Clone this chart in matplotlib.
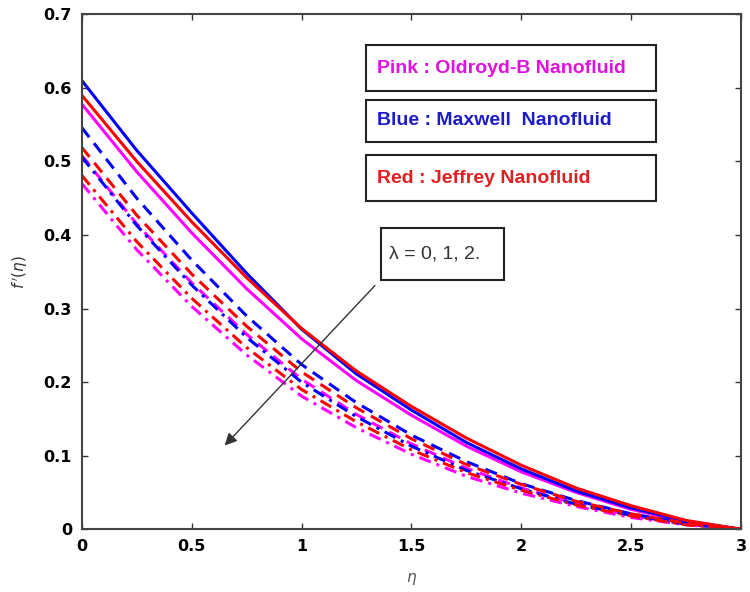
import numpy as np
import matplotlib.pyplot as plt
from matplotlib.patches import Rectangle

# eta grid and velocity profiles
eta = [0, 0.25, 0.5, 0.75, 1.0, 1.25, 1.5, 1.75, 2.0, 2.25, 2.5, 2.75, 3.0]

# lambda = 0 (solid), 1 (dashed), 2 (dash-dot)
pink_l0 = [0.578, 0.486, 0.403, 0.327, 0.259, 0.202, 0.155, 0.113, 0.078, 0.050, 0.027, 0.010, 0.0]
pink_l1 = [0.508, 0.415, 0.335, 0.265, 0.204, 0.156, 0.116, 0.083, 0.056, 0.035, 0.019, 0.007, 0.0]
pink_l2 = [0.470, 0.380, 0.303, 0.237, 0.181, 0.138, 0.102, 0.072, 0.049, 0.031, 0.016, 0.006, 0.0]

blue_l0 = [0.610, 0.515, 0.430, 0.348, 0.272, 0.211, 0.162, 0.118, 0.082, 0.052, 0.029, 0.011, 0.0]
blue_l1 = [0.546, 0.450, 0.366, 0.290, 0.224, 0.172, 0.128, 0.092, 0.062, 0.039, 0.021, 0.008, 0.0]
blue_l2 = [0.506, 0.413, 0.332, 0.261, 0.200, 0.153, 0.113, 0.080, 0.055, 0.034, 0.019, 0.007, 0.0]

red_l0 = [0.590, 0.500, 0.418, 0.342, 0.273, 0.215, 0.167, 0.124, 0.087, 0.056, 0.032, 0.012, 0.0]
red_l1 = [0.519, 0.427, 0.347, 0.276, 0.214, 0.165, 0.123, 0.088, 0.061, 0.038, 0.021, 0.008, 0.0]
red_l2 = [0.481, 0.391, 0.314, 0.247, 0.190, 0.146, 0.108, 0.077, 0.053, 0.033, 0.018, 0.006, 0.0]

fig = plt.figure(figsize=(7.5, 5.92), dpi=100)
ax = fig.add_axes([0.109, 0.106, 0.879, 0.870])

lw = 2.2
dash = (0, (4, 2.5))
dashdot = (0, (4, 2, 1, 2))
for col, series in (('#ff00ff', (pink_l0, pink_l1, pink_l2)),
                    ('#0000ff', (blue_l0, blue_l1, blue_l2)),
                    ('#ff0000', (red_l0, red_l1, red_l2))):
    ax.plot(eta, series[0], color=col, lw=lw, ls='-')
    ax.plot(eta, series[1], color=col, lw=lw, ls=dash)
    ax.plot(eta, series[2], color=col, lw=lw, ls=dashdot)

ax.set_xlim(0, 3)
ax.set_ylim(0, 0.7)
ax.set_xticks([0, 0.5, 1, 1.5, 2, 2.5, 3])
ax.set_xticklabels(['0', '0.5', '1', '1.5', '2', '2.5', '3'])
ax.set_yticks([0, 0.1, 0.2, 0.3, 0.4, 0.5, 0.6, 0.7])
ax.set_yticklabels(['0', '0.1', '0.2', '0.3', '0.4', '0.5', '0.6', '0.7'])
ax.tick_params(direction='in', length=4, top=True, right=True, width=1,
               labelsize=11.5, pad=7, colors='#333333', labelcolor='black')
for lab in ax.get_xticklabels() + ax.get_yticklabels():
    lab.set_fontweight('bold')
    lab.set_family('DejaVu Sans')
for s in ax.spines.values():
    s.set_linewidth(1.5)
    s.set_color('#444444')

ax.set_xlabel(r'$\eta$', fontsize=11, color='#555555', labelpad=12)
ax.set_ylabel(r"$f\,'(\eta)$", fontsize=11, color='#333333', labelpad=10)

# legend boxes
boxes = [(0.595, 0.658, 'Pink : Oldroyd-B Nanofluid', '#e010e0'),
         (0.526, 0.584, 'Blue : Maxwell  Nanofluid', '#1c1cc8'),
         (0.446, 0.508, 'Red : Jeffrey Nanofluid', '#e02020')]
for y0, y1, txt, col in boxes:
    ax.add_patch(Rectangle((1.293, y0), 2.613 - 1.293, y1 - y0, fill=False,
                           edgecolor='#222222', lw=1.5, zorder=5))
    ax.text(1.343, (y0 + y1) / 2, txt, color=col, fontsize=14, fontweight='bold',
            family='Liberation Sans', va='center', ha='left', zorder=6)

# lambda box and arrow
ax.add_patch(Rectangle((1.361, 0.339), 1.923 - 1.361, 0.410 - 0.339, fill=False,
                       edgecolor='#222222', lw=1.5, zorder=5))
ax.text(1.40, 0.374, 'λ = 0, 1, 2.', fontsize=14, color='#333333',
        family='Liberation Sans', va='center', ha='left', zorder=6)
ax.annotate('', xy=(0.642, 0.111), xytext=(1.343, 0.334),
            arrowprops=dict(arrowstyle='-|>', color='#333333', lw=1,
                            mutation_scale=18))

fig.savefig('out.png', dpi=100)
